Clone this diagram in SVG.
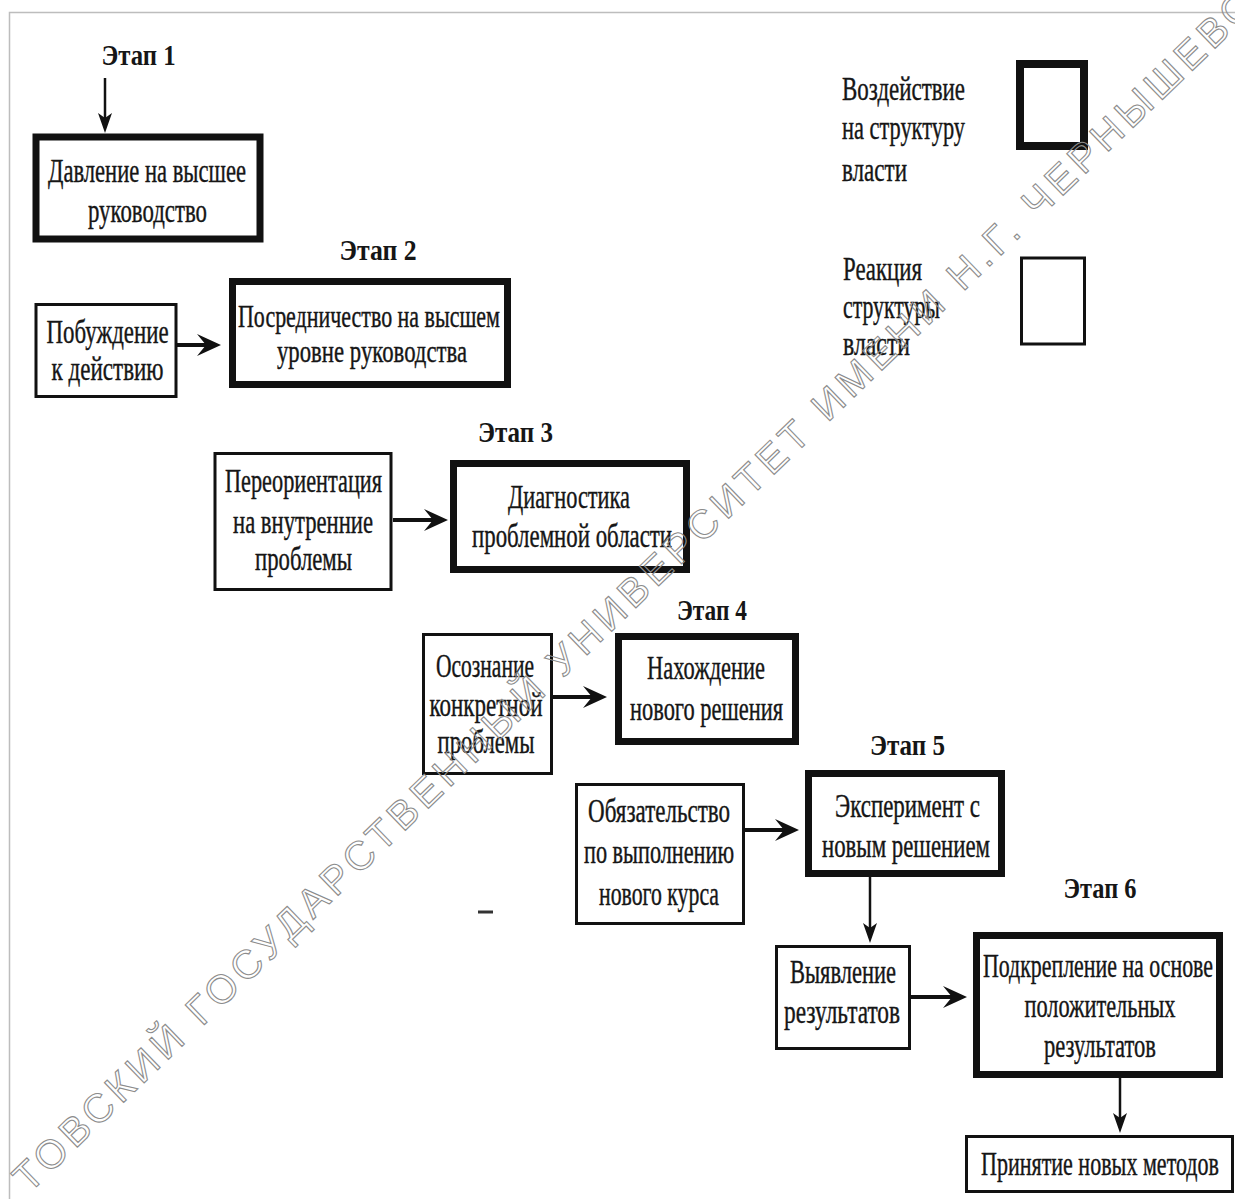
<svg xmlns="http://www.w3.org/2000/svg" width="1235" height="1199" viewBox="0 0 1235 1199">
  <defs>
    <style>
      .bg { fill: #ffffff; }
      .frame { stroke: #bdbdbd; stroke-width: 1.5; fill: none; }
      .thick { fill: #ffffff; stroke: #111111; stroke-width: 7; }
      .thin { fill: #ffffff; stroke: #111111; stroke-width: 3; }
      .t { font-family: "Liberation Serif", "Times New Roman", serif; font-size: 33px; fill: #161616; stroke: #161616; stroke-width: 0.4; text-anchor: middle; }
      .ts { font-size: 31px; }
      .tl { font-family: "Liberation Serif", "Times New Roman", serif; font-size: 33px; fill: #161616; stroke: #161616; stroke-width: 0.4; text-anchor: start; }
      .stage { font-family: "Liberation Serif", "Times New Roman", serif; font-size: 30px; font-weight: bold; fill: #161616; text-anchor: middle; }
      .ah { fill: none; stroke: #111111; stroke-width: 4; }
      .av { fill: none; stroke: #111111; stroke-width: 2.5; }
      .wm { font-family: "Liberation Sans", Arial, sans-serif; font-size: 40px; fill: none; stroke: #8c8c8c; stroke-width: 1.1; }
    </style>
    <marker id="headH" markerUnits="userSpaceOnUse" markerWidth="24" markerHeight="22" refX="12" refY="11" orient="auto">
      <path d="M0,0 L24,11 L0,22 L9,11 Z" fill="#111111"/>
    </marker>
    <marker id="headV" markerUnits="userSpaceOnUse" markerWidth="20" markerHeight="14" refX="8" refY="7" orient="auto">
      <path d="M0,0 L20,7 L0,14 L5,7 Z" fill="#111111"/>
    </marker>
  </defs>

  <rect class="bg" x="0" y="0" width="1235" height="1199"/>
  <path class="frame" d="M9.5,1199 L9.5,12.5 L1235,12.5"/>

  <!-- Stage labels -->
  <g id="stage-labels">
    <text class="stage" x="138.6" y="65" textLength="74" lengthAdjust="spacingAndGlyphs">Этап 1</text>
    <text class="stage" x="378" y="260" textLength="77" lengthAdjust="spacingAndGlyphs">Этап 2</text>
    <text class="stage" x="515.5" y="441.5" textLength="75" lengthAdjust="spacingAndGlyphs">Этап 3</text>
    <text class="stage" x="712" y="620" textLength="70" lengthAdjust="spacingAndGlyphs">Этап 4</text>
    <text class="stage" x="907.5" y="755" textLength="75" lengthAdjust="spacingAndGlyphs">Этап 5</text>
    <text class="stage" x="1100" y="898" textLength="73" lengthAdjust="spacingAndGlyphs">Этап 6</text>
  </g>

  <!-- Connectors -->
  <g id="connectors">
    <path class="av" d="M105,78 L105,121" marker-end="url(#headV)"/>
    <path class="ah" d="M177,345 L209,345" marker-end="url(#headH)"/>
    <path class="ah" d="M393,520 L436,520" marker-end="url(#headH)"/>
    <path class="ah" d="M553,697 L595,697" marker-end="url(#headH)"/>
    <path class="ah" d="M745,830 L787,830" marker-end="url(#headH)"/>
    <path class="av" d="M870,877 L870,931" marker-end="url(#headV)"/>
    <path class="ah" d="M911,997 L955,997" marker-end="url(#headH)"/>
    <path class="av" d="M1120,1078 L1120,1121" marker-end="url(#headV)"/>
  </g>

  <!-- Nodes -->
  <g id="node-davlenie">
    <rect class="thick" x="36" y="137" width="224" height="102"/>
    <text class="t" x="147" y="182" textLength="198" lengthAdjust="spacingAndGlyphs">Давление на высшее</text>
    <text class="t" x="147.5" y="222" textLength="119" lengthAdjust="spacingAndGlyphs">руководство</text>
  </g>

  <g id="node-pobuzhdenie">
    <rect class="thin" x="36" y="304.5" width="140" height="92"/>
    <text class="t" x="107.6" y="343" textLength="122" lengthAdjust="spacingAndGlyphs">Побуждение</text>
    <text class="t" x="107.6" y="380" textLength="112" lengthAdjust="spacingAndGlyphs">к действию</text>
  </g>

  <g id="node-posrednichestvo">
    <rect class="thick" x="232.5" y="281.5" width="275" height="103"/>
    <text class="t ts" x="369" y="327" textLength="262" lengthAdjust="spacingAndGlyphs">Посредничество на высшем</text>
    <text class="t ts" x="372" y="362" textLength="190" lengthAdjust="spacingAndGlyphs">уровне руководства</text>
  </g>

  <g id="node-pereorientaciya">
    <rect class="thin" x="215" y="453.5" width="176" height="136"/>
    <text class="t" x="303.5" y="492" textLength="157" lengthAdjust="spacingAndGlyphs">Переориентация</text>
    <text class="t" x="303" y="533" textLength="140" lengthAdjust="spacingAndGlyphs">на внутренние</text>
    <text class="t" x="303.5" y="570" textLength="97" lengthAdjust="spacingAndGlyphs">проблемы</text>
  </g>

  <g id="node-diagnostika">
    <rect class="thick" x="453.5" y="463.5" width="233" height="106"/>
    <text class="t" x="569" y="508" textLength="122" lengthAdjust="spacingAndGlyphs">Диагностика</text>
    <text class="t" x="572" y="547" textLength="200" lengthAdjust="spacingAndGlyphs">проблемной области</text>
  </g>

  <g id="node-osoznanie">
    <rect class="thin" x="423.5" y="634.5" width="128" height="139"/>
    <text class="t" x="485" y="677" textLength="98" lengthAdjust="spacingAndGlyphs">Осознание</text>
    <text class="t" x="486" y="716" textLength="113" lengthAdjust="spacingAndGlyphs">конкретной</text>
    <text class="t" x="486" y="753" textLength="97" lengthAdjust="spacingAndGlyphs">проблемы</text>
  </g>

  <g id="node-nahozhdenie">
    <rect class="thick" x="618.5" y="636.5" width="177" height="105"/>
    <text class="t" x="706" y="679" textLength="118" lengthAdjust="spacingAndGlyphs">Нахождение</text>
    <text class="t" x="706.5" y="720" textLength="153" lengthAdjust="spacingAndGlyphs">нового решения</text>
  </g>

  <g id="node-obyazatelstvo">
    <rect class="thin" x="576.5" y="784.5" width="167" height="139"/>
    <text class="t" x="659" y="822" textLength="142" lengthAdjust="spacingAndGlyphs">Обязательство</text>
    <text class="t" x="659" y="863" textLength="150" lengthAdjust="spacingAndGlyphs">по выполнению</text>
    <text class="t" x="659" y="905" textLength="120" lengthAdjust="spacingAndGlyphs">нового курса</text>
  </g>

  <g id="node-eksperiment">
    <rect class="thick" x="808.5" y="773.5" width="193" height="100"/>
    <text class="t" x="907.5" y="817" textLength="145" lengthAdjust="spacingAndGlyphs">Эксперимент с</text>
    <text class="t" x="906" y="857" textLength="168" lengthAdjust="spacingAndGlyphs">новым решением</text>
  </g>

  <g id="node-vyyavlenie">
    <rect class="thin" x="776.5" y="946.5" width="133" height="102"/>
    <text class="t" x="843" y="983" textLength="106" lengthAdjust="spacingAndGlyphs">Выявление</text>
    <text class="t" x="842" y="1023" textLength="116" lengthAdjust="spacingAndGlyphs">результатов</text>
  </g>

  <g id="node-podkreplenie">
    <rect class="thick" x="976.5" y="935.5" width="243" height="139"/>
    <text class="t" transform="translate(1098,977) scale(0.7,1)" x="0" y="0" textLength="328.6" lengthAdjust="spacingAndGlyphs">Подкрепление на основе</text>
    <text class="t" transform="translate(1100,1017) scale(0.7,1)" x="0" y="0" textLength="215.7" lengthAdjust="spacingAndGlyphs">положительных</text>
    <text class="t" transform="translate(1100,1057) scale(0.7,1)" x="0" y="0" textLength="160" lengthAdjust="spacingAndGlyphs">результатов</text>
  </g>

  <g id="node-prinyatie">
    <rect class="thin" x="966.5" y="1136.5" width="266" height="55"/>
    <text class="t" transform="translate(1100,1175) scale(0.7,1)" x="0" y="0" textLength="340" lengthAdjust="spacingAndGlyphs">Принятие новых методов</text>
  </g>

  <!-- Legend -->
  <g id="legend-impact">
    <text class="tl" x="842" y="100" textLength="123" lengthAdjust="spacingAndGlyphs">Воздействие</text>
    <text class="tl" x="842" y="139" textLength="123" lengthAdjust="spacingAndGlyphs">на структуру</text>
    <text class="tl" x="842" y="181" textLength="65" lengthAdjust="spacingAndGlyphs">власти</text>
    <rect class="thick" x="1020" y="64" width="64" height="82" style="stroke-width:8"/>
  </g>
  <g id="legend-reaction">
    <text class="tl" x="843" y="280" textLength="79" lengthAdjust="spacingAndGlyphs">Реакция</text>
    <text class="tl" x="843" y="318" textLength="97" lengthAdjust="spacingAndGlyphs">структуры</text>
    <text class="tl" x="843" y="355" textLength="67" lengthAdjust="spacingAndGlyphs">власти</text>
    <rect class="thin" x="1021.5" y="258" width="63" height="86"/>
  </g>

  <!-- small scan mark -->
  <line x1="478" y1="912" x2="493" y2="912" stroke="#333333" stroke-width="3"/>

  <!-- Watermark -->
  <text class="wm" transform="translate(29,1194) rotate(-44)" textLength="1705" lengthAdjust="spacing">ТОВСКИЙ ГОСУДАРСТВЕННЫЙ УНИВЕРСИТЕТ ИМЕНИ Н.Г. ЧЕРНЫШЕВС</text>
</svg>
